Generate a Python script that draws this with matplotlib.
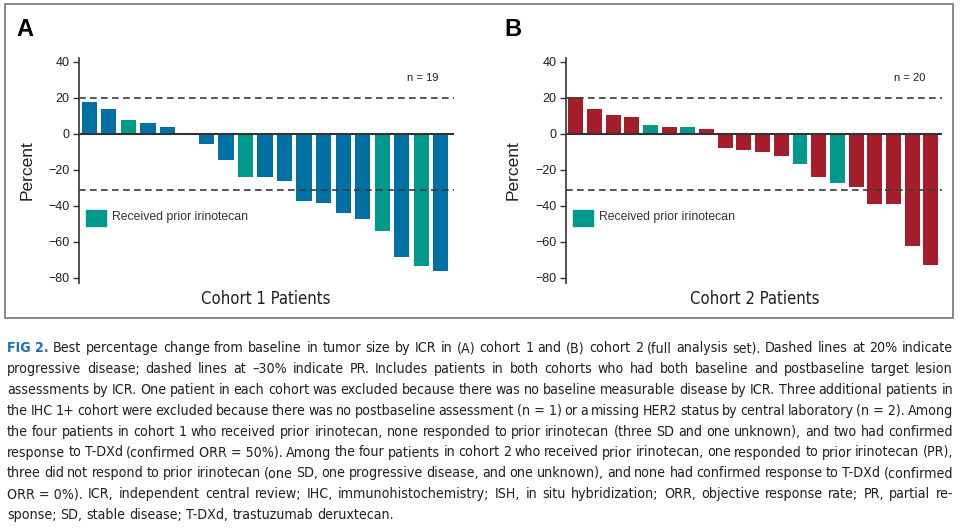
import matplotlib
matplotlib.use('Agg')
import matplotlib.pyplot as plt
from matplotlib import font_manager
from matplotlib.font_manager import FontProperties
from matplotlib.patches import Rectangle

# Data (best % change from baseline)
cohort1_change = [18, 13.7, 7.8, 6.1, 4.1, 0, -5.7, -14.3, -23.7, -23.9, -25.9,
                  -37.2, -38.1, -44.1, -47.2, -54.1, -68.3, -73.3, -75.9]
cohort1_prior = [0, 0, 1, 0, 0, 0, 0, 0, 1, 0, 0, 0, 0, 0, 0, 1, 0, 1, 0]

cohort2_change = [20.6, 13.7, 10.6, 9.4, 4.8, 3.7, 3.7, 2.6, -7.8, -9.1, -10,
                  -12.2, -16.9, -23.9, -27, -29.3, -38.7, -38.7, -62.2, -73]
cohort2_prior = [0, 0, 0, 0, 1, 0, 1, 0, 0, 0, 0, 0, 1, 0, 1, 0, 0, 0, 0, 0]

y_ticks = [-80, -60, -40, -20, 0, 20, 40]
pd_line = 20
pr_line = -31

caption_lines = [
    "Best percentage change from baseline in tumor size by ICR in (A) cohort 1 and (B) cohort 2 (full analysis set). Dashed lines at 20% indicate",
    "progressive disease; dashed lines at \u201330% indicate PR. Includes patients in both cohorts who had both baseline and postbaseline target lesion",
    "assessments by ICR. One patient in each cohort was excluded because there was no baseline measurable disease by ICR. Three additional patients in",
    "the IHC 1+ cohort were excluded because there was no postbaseline assessment (n\u00a0=\u00a01) or a missing HER2 status by central laboratory (n\u00a0=\u00a02). Among",
    "the four patients in cohort 1 who received prior irinotecan, none responded to prior irinotecan (three SD and one unknown), and two had confirmed",
    "response to T-DXd (confirmed ORR\u00a0=\u00a050%). Among the four patients in cohort 2 who received prior irinotecan, one responded to prior irinotecan (PR),",
    "three did not respond to prior irinotecan (one SD, one progressive disease, and one unknown), and none had confirmed response to T-DXd (confirmed",
    "ORR\u00a0=\u00a00%). ICR, independent central review; IHC, immunohistochemistry; ISH, in situ hybridization; ORR, objective response rate; PR, partial re-",
    "sponse; SD, stable disease; T-DXd, trastuzumab deruxtecan.",
]

BLUE = '#0071a2'
TEAL = '#00998b'
RED = '#a51e2c'
INK = '#231f20'

names = {f.name for f in font_manager.fontManager.ttflist}
SANS = 'Liberation Sans' if 'Liberation Sans' in names else 'DejaVu Sans'
plt.rcParams['font.family'] = [SANS, 'DejaVu Sans']

# look for a condensed face for the title / caption text
narrow_reg, narrow_bold = None, None
for f in font_manager.fontManager.ttflist:
    cond = ('Narrow' in f.name or 'Condensed' in f.name
            or str(f.stretch) in ('condensed', 'semi-condensed'))
    if cond and f.style == 'normal':
        w = f.weight if isinstance(f.weight, int) else (700 if f.weight == 'bold' else 400)
        if w >= 600:
            narrow_bold = narrow_bold or f.fname
        elif w <= 450:
            narrow_reg = narrow_reg or f.fname


def cprop(size, bold=False):
    if bold and narrow_bold:
        return FontProperties(fname=narrow_bold, size=size)
    if narrow_reg:
        return FontProperties(fname=narrow_reg, size=size, weight='bold' if bold else 'normal')
    return FontProperties(family=SANS, size=size, weight='bold' if bold else 'normal')


W, H = 962, 528
fig = plt.figure(figsize=(W / 100, H / 100), dpi=100)
renderer = fig.canvas.get_renderer()


def fx(x):
    return x / W


def fy(y):
    return 1 - y / H


def text_width(s, prop):
    t = fig.text(0, 0, s, fontproperties=prop)
    w = t.get_window_extent(renderer).width
    t.remove()
    return w


# title size so that "Cohort 1 Patients" is ~129 px wide, capped
title_size = min(14.5, 10 * 129 / text_width('Cohort 1 Patients', cprop(10)))

# outer frame around both panels
fig.patches.append(Rectangle((fx(5), fy(318)), fx(953) - fx(5), fy(4) - fy(318),
                             transform=fig.transFigure, fill=False,
                             edgecolor='#808080', lw=1.3))


def waterfall(left, right, values, prior, base_color, xpad, width, letter, letter_x,
              ylabel_x, title, title_x, n_right):
    ax = fig.add_axes([fx(left), fy(283), fx(right) - fx(left), fy(58) - fy(283)])
    x = list(range(len(values)))
    colors = [TEAL if p else base_color for p in prior]
    ax.bar(x, values, width=width, color=colors, zorder=2)
    ax.axhline(0, color='#333333', lw=1.5, zorder=3)
    ax.axhline(pd_line, color='#3a3a3a', lw=1.2, dashes=(4, 2.6), zorder=3)
    ax.axhline(pr_line, color='#3a3a3a', lw=1.2, dashes=(4, 2.6), zorder=3)
    ax.set_xlim(-xpad[0], len(values) - 1 + xpad[1])
    ax.set_ylim(-82.8, 42.2)
    ax.set_yticks(y_ticks)
    ax.set_xticks([])
    for s in ['top', 'right', 'bottom']:
        ax.spines[s].set_visible(False)
    ax.spines['left'].set_color('#333333')
    ax.spines['left'].set_linewidth(1.2)
    ax.tick_params(axis='y', direction='out', length=4, width=1, color='#333333',
                   labelsize=9, labelcolor=INK, pad=3)
    ax.patch.set_alpha(0)

    fig.text(fx(letter_x), fy(29), letter, fontsize=17, fontweight='bold',
             color='black', va='center', ha='left')
    fig.text(fx(ylabel_x), fy(170), 'Percent', fontsize=12.5, rotation=90,
             color=INK, ha='center', va='center')
    fig.text(fx(title_x), fy(304), title, fontproperties=cprop(title_size),
             color=INK, ha='center', va='baseline')
    fig.text(fx(n_right), fy(78), 'n = %d' % len(values), fontsize=8,
             color=INK, ha='right', va='center')
    # legend box
    fig.patches.append(Rectangle((fx(left + 7), fy(226)), fx(20), fy(0) - fy(16),
                                 transform=fig.transFigure, color=TEAL))
    fig.text(fx(left + 33), fy(217.5), 'Received prior irinotecan', fontsize=8.8,
             color='#333333', ha='left', va='center')
    return ax


waterfall(79, 454, cohort1_change, cohort1_prior, BLUE, (0.53, 0.68), 0.78,
          'A', 16, 27, 'Cohort 1 Patients', 266, 438)
waterfall(566, 942, cohort2_change, cohort2_prior, RED, (0.525, 0.6), 0.8,
          'B', 504, 513, 'Cohort 2 Patients', 755, 925)

# caption, justified between x0 and x1
x0, x1 = 7, 953
span = x1 - x0

# caption size: widest line is allowed to squeeze its word gaps a little
widest = max(text_width(l, cprop(10)) for l in caption_lines[1:])
cap_size = min(12.5, 10 * span * 1.025 / widest)


def place_line(words, y, justify=True):
    texts = []
    for w, prop, color in words:
        t = fig.text(fx(x0), fy(y), w, fontproperties=prop, color=color,
                     va='baseline', ha='left')
        texts.append(t)
    widths = [t.get_window_extent(renderer).width for t in texts]
    sw = text_width('a b', cprop(cap_size)) - text_width('ab', cprop(cap_size))
    if justify and len(texts) > 1:
        gap = (span - sum(widths)) / (len(texts) - 1)
    else:
        gap = sw
    pos = x0
    for t, w in zip(texts, widths):
        t.set_x(fx(pos))
        pos += w + gap


for i, line in enumerate(caption_lines):
    y = 352 + 20.9 * i
    words = [(w.replace('\u00a0', ' '), cprop(cap_size), INK) for w in line.split(' ')]
    if i == 0:
        words = [('FIG 2.', cprop(cap_size, bold=True), '#1f6fb2')] + words
    place_line(words, y, justify=(i < len(caption_lines) - 1))

fig.savefig('out.png', dpi=100)
